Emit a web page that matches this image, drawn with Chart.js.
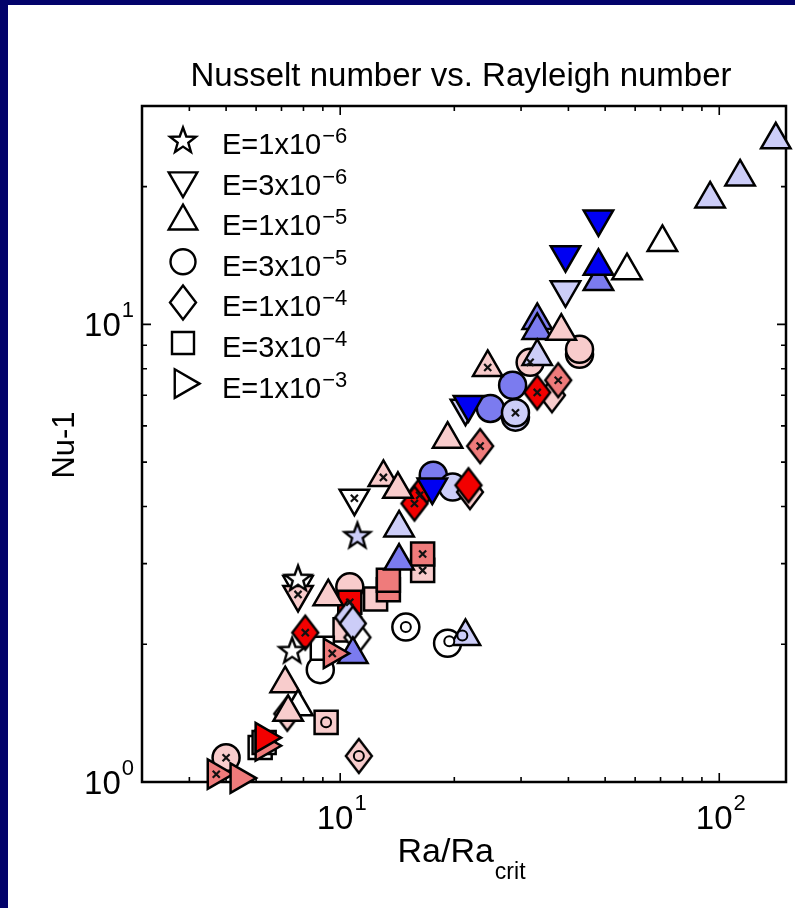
<!DOCTYPE html>
<html>
<head>
<meta charset="utf-8">
<script src="https://cdn.jsdelivr.net/npm/chart.js@4.4.1/dist/chart.umd.min.js"></script>
<style>
  html, body { margin: 0; padding: 0; background: #03036b; width: 795px; height: 908px; overflow: hidden; }
  #chartNu { position: absolute; left: 8px; top: 5px; background: #ffffff; }
</style>
</head>
<body>
<canvas id="chartNu" width="787" height="903"></canvas>
<script>
// Leyenda: número de Ekman de cada serie
const ekmanBase = ['E=1x10', 'E=3x10', 'E=1x10', 'E=3x10', 'E=1x10', 'E=3x10', 'E=1x10'];
const ekmanExp = ['\u22126', '\u22126', '\u22125', '\u22125', '\u22124', '\u22124', '\u22123'];
const legendShapes = ['star', 'down', 'up', 'circle', 'diamond', 'square', 'right'];

// Ejes (Ra/Ra_crit y Nu-1)
const xMin = 3, xMax = 150;
const yMin = 1, yMax = 30;
const xMajor = [10, 100];
const xMinor = [4, 5, 6, 7, 8, 9, 20, 30, 40, 50, 60, 70, 80, 90];
const yMajor = [1, 10];
const yMinor = [2, 3, 4, 5, 6, 7, 8, 9, 20];
const xTickExp = ['1', '2'];
const yTickExp = ['0', '1'];

// Colores de relleno (w blanco ... r rojo)
const fillColors = {
  w: '#ffffff', l: '#cccdf8', m: '#7b7bef', b: '#0000f2',
  p: '#f8cccc', s: '#ef7b7b', r: '#f20000'
};

// E=1x10^-6 (estrellas)
const starRa = [7.74, 7.47, 11.1];
const starNu = [2.79, 1.94, 3.46];
const starFill = ['w', 'w', 'l'];

// E=3x10^-6 (triángulo hacia abajo)
const downRa = [48.0, 39.3, 39.3, 21.4, 21.8, 17.5, 10.9, 7.74, 7.74];
const downNu = [17.0, 14.2, 11.9, 6.56, 6.68, 4.41, 4.17, 2.70, 2.57];
const downFill = ['b', 'b', 'l', 'l', 'b', 'b', 'w', 'w', 'p'];

// E=1x10^-5 (triángulo hacia arriba)
const upRa = [141, 113.5, 94.6, 70.8, 57.1, 48.0, 48.0, 33.1, 33.1, 38.3, 33.1, 24.5,
  19.2, 13.0, 14.2, 14.3, 14.3, 9.3, 10.8, 21.4, 7.16, 7.74, 7.29];
const upNu = [25.3, 21.0, 18.8, 15.1, 13.1, 12.4, 13.4, 10.2, 9.7, 9.66, 8.51, 8.05,
  5.61, 4.63, 4.36, 3.59, 3.04, 2.54, 1.90, 2.08, 1.64, 1.46, 1.42];
const upFill = ['l', 'l', 'l', 'w', 'w', 'm', 'b', 'm', 'm', 'p', 'l', 'p',
  'p', 'p', 'p', 'l', 'm', 'p', 'm', 'l', 'p', 'w', 'p'];

// E=3x10^-5 (círculos)
const circRa = [42.8, 42.8, 31.7, 28.5, 24.9, 29.0, 29.0, 17.6, 19.8, 10.6, 14.9, 19.2, 8.86, 5.0];
const circNu = [8.6, 8.82, 8.26, 7.36, 6.55, 6.27, 6.41, 4.68, 4.41, 2.67, 2.18, 2.01, 1.76, 1.13];
const circFill = ['p', 'p', 'p', 'm', 'm', 'l', 'l', 'm', 'l', 'p', 'w', 'w', 'w', 'p'];

// E=1x10^-4 (rombos)
const diaRa = [36.2, 37.6, 33.1, 23.4, 22.0, 21.8, 16.2, 15.7, 8.09, 11.1, 10.5, 10.8, 7.25, 11.2];
const diaNu = [7.0, 7.55, 7.1, 5.42, 4.30, 4.45, 4.23, 4.06, 2.12, 2.07, 2.29, 2.22, 1.41, 1.14];
const diaFill = ['p', 's', 'r', 's', 'p', 'r', 'r', 'r', 'r', 'w', 'l', 'l', 'p', 'p'];

// E=3x10^-4 (cuadrados)
const sqRa = [6.15, 6.30, 12.4, 16.5, 16.5, 13.4, 13.4, 10.6, 10.3, 8.97, 9.18];
const sqNu = [1.19, 1.22, 2.51, 2.90, 3.15, 2.63, 2.76, 2.47, 2.15, 1.96, 1.35];
const sqFill = ['w', 'w', 'p', 'p', 's', 's', 's', 'r', 'p', 'w', 'p'];

// E=1x10^-3 (triángulo hacia la derecha)
const rtRa = [9.53, 6.30, 6.30, 4.71, 5.41];
const rtNu = [1.91, 1.20, 1.25, 1.04, 1.02];
const rtFill = ['s', 's', 'r', 's', 's'];

// Marcas internas: cruces y anillos pequeños
const crossRa = [31.7, 24.5, 33.1, 37.6, 29.0, 23.4, 13.0, 16.2, 15.7, 10.9, 16.5, 16.5, 10.6, 7.74, 8.09, 9.53, 5.0, 4.71];
const crossNu = [8.26, 8.05, 7.1, 7.55, 6.41, 5.42, 4.63, 4.23, 4.06, 4.17, 3.15, 2.90, 2.47, 2.57, 2.12, 1.91, 1.13, 1.04];
const ringRa = [14.9, 19.4, 21.0, 9.18, 11.2];
const ringNu = [2.18, 2.03, 2.09, 1.35, 1.14];
const ringFill = ['w', 'w', 'l', 'p', 'p'];

const FONT = "'Liberation Sans', Arial, Helvetica, sans-serif";

function pts(xs, ys) {
  return xs.map((x, i) => ({ x: x, y: ys[i] }));
}

// Imágenes de marcadores que Chart.js no trae (estrella de 5 puntas, rombo alto)
function starPath(g, cx, cy) {
  g.beginPath();
  for (let i = 0; i < 10; i++) {
    const r = i % 2 ? 5.6 : 13.5;
    const a = -Math.PI / 2 + i * Math.PI / 5;
    g.lineTo(cx + r * Math.cos(a), cy + r * Math.sin(a));
  }
  g.closePath();
}

function diamondPath(g, cx, cy) {
  g.beginPath();
  g.moveTo(cx, cy - 17);
  g.lineTo(cx + 13, cy);
  g.lineTo(cx, cy + 17);
  g.lineTo(cx - 13, cy);
  g.closePath();
}

const imgCache = {};
function markerImage(kind, key) {
  const id = kind + key;
  if (imgCache[id]) return imgCache[id];
  const c = document.createElement('canvas');
  c.width = 34;
  c.height = kind === 'star' ? 34 : 40;
  const g = c.getContext('2d');
  if (kind === 'star') starPath(g, 17, 18); else diamondPath(g, 17, 20);
  g.fillStyle = fillColors[key];
  g.fill();
  g.lineWidth = 2.4;
  g.lineJoin = 'miter';
  g.strokeStyle = '#000';
  g.stroke();
  imgCache[id] = c;
  return c;
}

function shapeSet(label, xs, ys, fills, style, radius, rotation, order) {
  return {
    label: label,
    data: pts(xs, ys),
    pointStyle: style,
    pointRadius: radius,
    pointRotation: rotation,
    pointBackgroundColor: fills.map(k => fillColors[k]),
    pointBorderColor: '#000000',
    pointBorderWidth: 2.5,
    order: order,
    clip: false
  };
}

// Texto con exponente
function powText(ctx, base, exp, x, y, baseSize, expSize, rise, align) {
  ctx.font = baseSize + 'px ' + FONT;
  const wb = ctx.measureText(base).width;
  ctx.font = expSize + 'px ' + FONT;
  const we = ctx.measureText(exp).width;
  let x0 = x;
  if (align === 'center') x0 = x - (wb + we) / 2;
  if (align === 'right') x0 = x - (wb + we);
  ctx.textAlign = 'left';
  ctx.textBaseline = 'alphabetic';
  ctx.font = baseSize + 'px ' + FONT;
  ctx.fillText(base, x0, y);
  ctx.font = expSize + 'px ' + FONT;
  ctx.fillText(exp, x0 + wb + 1, y - rise);
}

function legendMarker(ctx, shape, x, y) {
  ctx.fillStyle = '#ffffff';
  ctx.strokeStyle = '#000000';
  ctx.lineWidth = 2.4;
  ctx.lineJoin = 'miter';
  if (shape === 'star') { starPath(ctx, x, y + 1); }
  else if (shape === 'diamond') { diamondPath(ctx, x, y); }
  else if (shape === 'circle') { ctx.beginPath(); ctx.arc(x, y, 12.5, 0, Math.PI * 2); }
  else if (shape === 'square') { ctx.beginPath(); ctx.rect(x - 11, y - 11, 22, 22); }
  else {
    const rot = { up: 0, down: 180, right: 90 }[shape] * Math.PI / 180;
    const r = 16.5;
    let a = rot;
    ctx.beginPath();
    for (let k = 0; k < 3; k++) {
      ctx.lineTo(x + Math.sin(a) * r, y - Math.cos(a) * r);
      a += 2 * Math.PI / 3;
    }
    ctx.closePath();
  }
  ctx.fill();
  ctx.stroke();
}

const decorPlugin = {
  id: 'decor',
  beforeDatasetsDraw(chart) {
    const { ctx, chartArea: a } = chart;
    const xs = chart.scales.x, ys = chart.scales.y;
    ctx.save();
    ctx.strokeStyle = '#000000';
    ctx.lineWidth = 1.6;
    ctx.beginPath();
    const tickX = (v, len) => {
      const px = xs.getPixelForValue(v);
      ctx.moveTo(px, a.bottom); ctx.lineTo(px, a.bottom - len);
      ctx.moveTo(px, a.top); ctx.lineTo(px, a.top + len);
    };
    const tickY = (v, len) => {
      const py = ys.getPixelForValue(v);
      ctx.moveTo(a.left, py); ctx.lineTo(a.left + len, py);
      ctx.moveTo(a.right, py); ctx.lineTo(a.right - len, py);
    };
    xMajor.forEach(v => tickX(v, 9));
    xMinor.forEach(v => tickX(v, 5));
    yMajor.forEach(v => tickY(v, 9));
    yMinor.forEach(v => tickY(v, 5));
    ctx.stroke();
    ctx.lineWidth = 2.5;
    ctx.strokeRect(a.left, a.top, a.right - a.left, a.bottom - a.top);
    ctx.restore();
  },
  afterDraw(chart) {
    const { ctx, chartArea: a } = chart;
    const xs = chart.scales.x, ys = chart.scales.y;
    ctx.save();
    ctx.fillStyle = '#000000';

    // Título
    ctx.font = '33px ' + FONT;
    ctx.textAlign = 'center';
    ctx.textBaseline = 'alphabetic';
    ctx.fillText('Nusselt number vs. Rayleigh number', (a.left + a.right) / 2 - 3, 81);

    // Etiquetas de los ticks
    xMajor.forEach((v, i) => {
      powText(ctx, '10', xTickExp[i], xs.getPixelForValue(v) + 1, a.bottom + 47, 33, 22, 19, 'center');
    });
    yMajor.forEach((v, i) => {
      powText(ctx, '10', yTickExp[i], a.left - 9, ys.getPixelForValue(v) + 12, 33, 22, 19, 'right');
    });

    // Título eje y
    ctx.save();
    ctx.translate(57, (a.top + a.bottom) / 2 + 1);
    ctx.rotate(-Math.PI / 2);
    ctx.font = '31px ' + FONT;
    ctx.textAlign = 'center';
    ctx.textBaseline = 'middle';
    ctx.fillText('Nu-1', 0, 0);
    ctx.restore();

    // Título eje x con subíndice
    ctx.font = '34px ' + FONT;
    const wRa = ctx.measureText('Ra/Ra').width;
    ctx.font = '23px ' + FONT;
    const wCrit = ctx.measureText('crit').width;
    const x0 = (a.left + a.right) / 2 - 3 - (wRa + wCrit) / 2;
    ctx.textAlign = 'left';
    ctx.textBaseline = 'alphabetic';
    ctx.font = '34px ' + FONT;
    ctx.fillText('Ra/Ra', x0, 857);
    ctx.font = '23px ' + FONT;
    ctx.fillText('crit', x0 + wRa + 1, 874);

    // Leyenda
    legendShapes.forEach((shape, i) => {
      const yRow = 135 + 40.6 * i;
      legendMarker(ctx, shape, 175, yRow);
      ctx.fillStyle = '#000000';
      powText(ctx, ekmanBase[i], ekmanExp[i], 214, yRow + 14, 29, 22, 11, 'left');
    });
    ctx.restore();
  }
};

new Chart(document.getElementById('chartNu'), {
  type: 'scatter',
  data: {
    datasets: [
      {
        label: 'cruces',
        data: pts(crossRa, crossNu),
        pointStyle: 'crossRot',
        pointRadius: 5,
        pointBorderColor: '#111111',
        pointBorderWidth: 2.2,
        order: 0,
        clip: false
      },
      {
        label: 'anillos',
        data: pts(ringRa, ringNu),
        pointStyle: 'circle',
        pointRadius: 5,
        pointBackgroundColor: ringFill.map(k => fillColors[k]),
        pointBorderColor: '#000000',
        pointBorderWidth: 2,
        order: 0,
        clip: false
      },
      {
        label: 'E=1x10^-6',
        data: pts(starRa, starNu),
        pointStyle: starFill.map(k => markerImage('star', k)),
        pointRadius: 12,
        order: 1,
        clip: false
      },
      shapeSet('E=1x10^-3', rtRa, rtNu, rtFill, 'triangle', 17, 90, 2),
      shapeSet('E=3x10^-6', downRa, downNu, downFill, 'triangle', 17, 180, 3),
      shapeSet('E=1x10^-5', upRa, upNu, upFill, 'triangle', 17, 0, 4),
      {
        label: 'E=1x10^-4',
        data: pts(diaRa, diaNu),
        pointStyle: diaFill.map(k => markerImage('diamond', k)),
        pointRadius: 12,
        order: 5,
        clip: false
      },
      shapeSet('E=3x10^-4', sqRa, sqNu, sqFill, 'rect', 16.3, 0, 6),
      shapeSet('E=3x10^-5', circRa, circNu, circFill, 'circle', 13.5, 0, 7)
    ]
  },
  options: {
    responsive: false,
    animation: false,
    devicePixelRatio: 1,
    events: [],
    layout: { autoPadding: false, padding: { left: 0, top: 101, right: 9, bottom: 0 } },
    plugins: {
      legend: { display: false },
      title: { display: false },
      tooltip: { enabled: false }
    },
    scales: {
      x: {
        type: 'logarithmic',
        position: 'bottom',
        min: xMin,
        max: xMax,
        bounds: 'data',
        ticks: { display: false },
        grid: { display: false },
        border: { display: false },
        afterFit: (scale) => { scale.height = 126; }
      },
      y: {
        type: 'logarithmic',
        position: 'left',
        min: yMin,
        max: yMax,
        bounds: 'data',
        ticks: { display: false },
        grid: { display: false },
        border: { display: false },
        afterFit: (scale) => { scale.width = 134; }
      }
    }
  },
  plugins: [decorPlugin]
});
</script>
</body>
</html>
